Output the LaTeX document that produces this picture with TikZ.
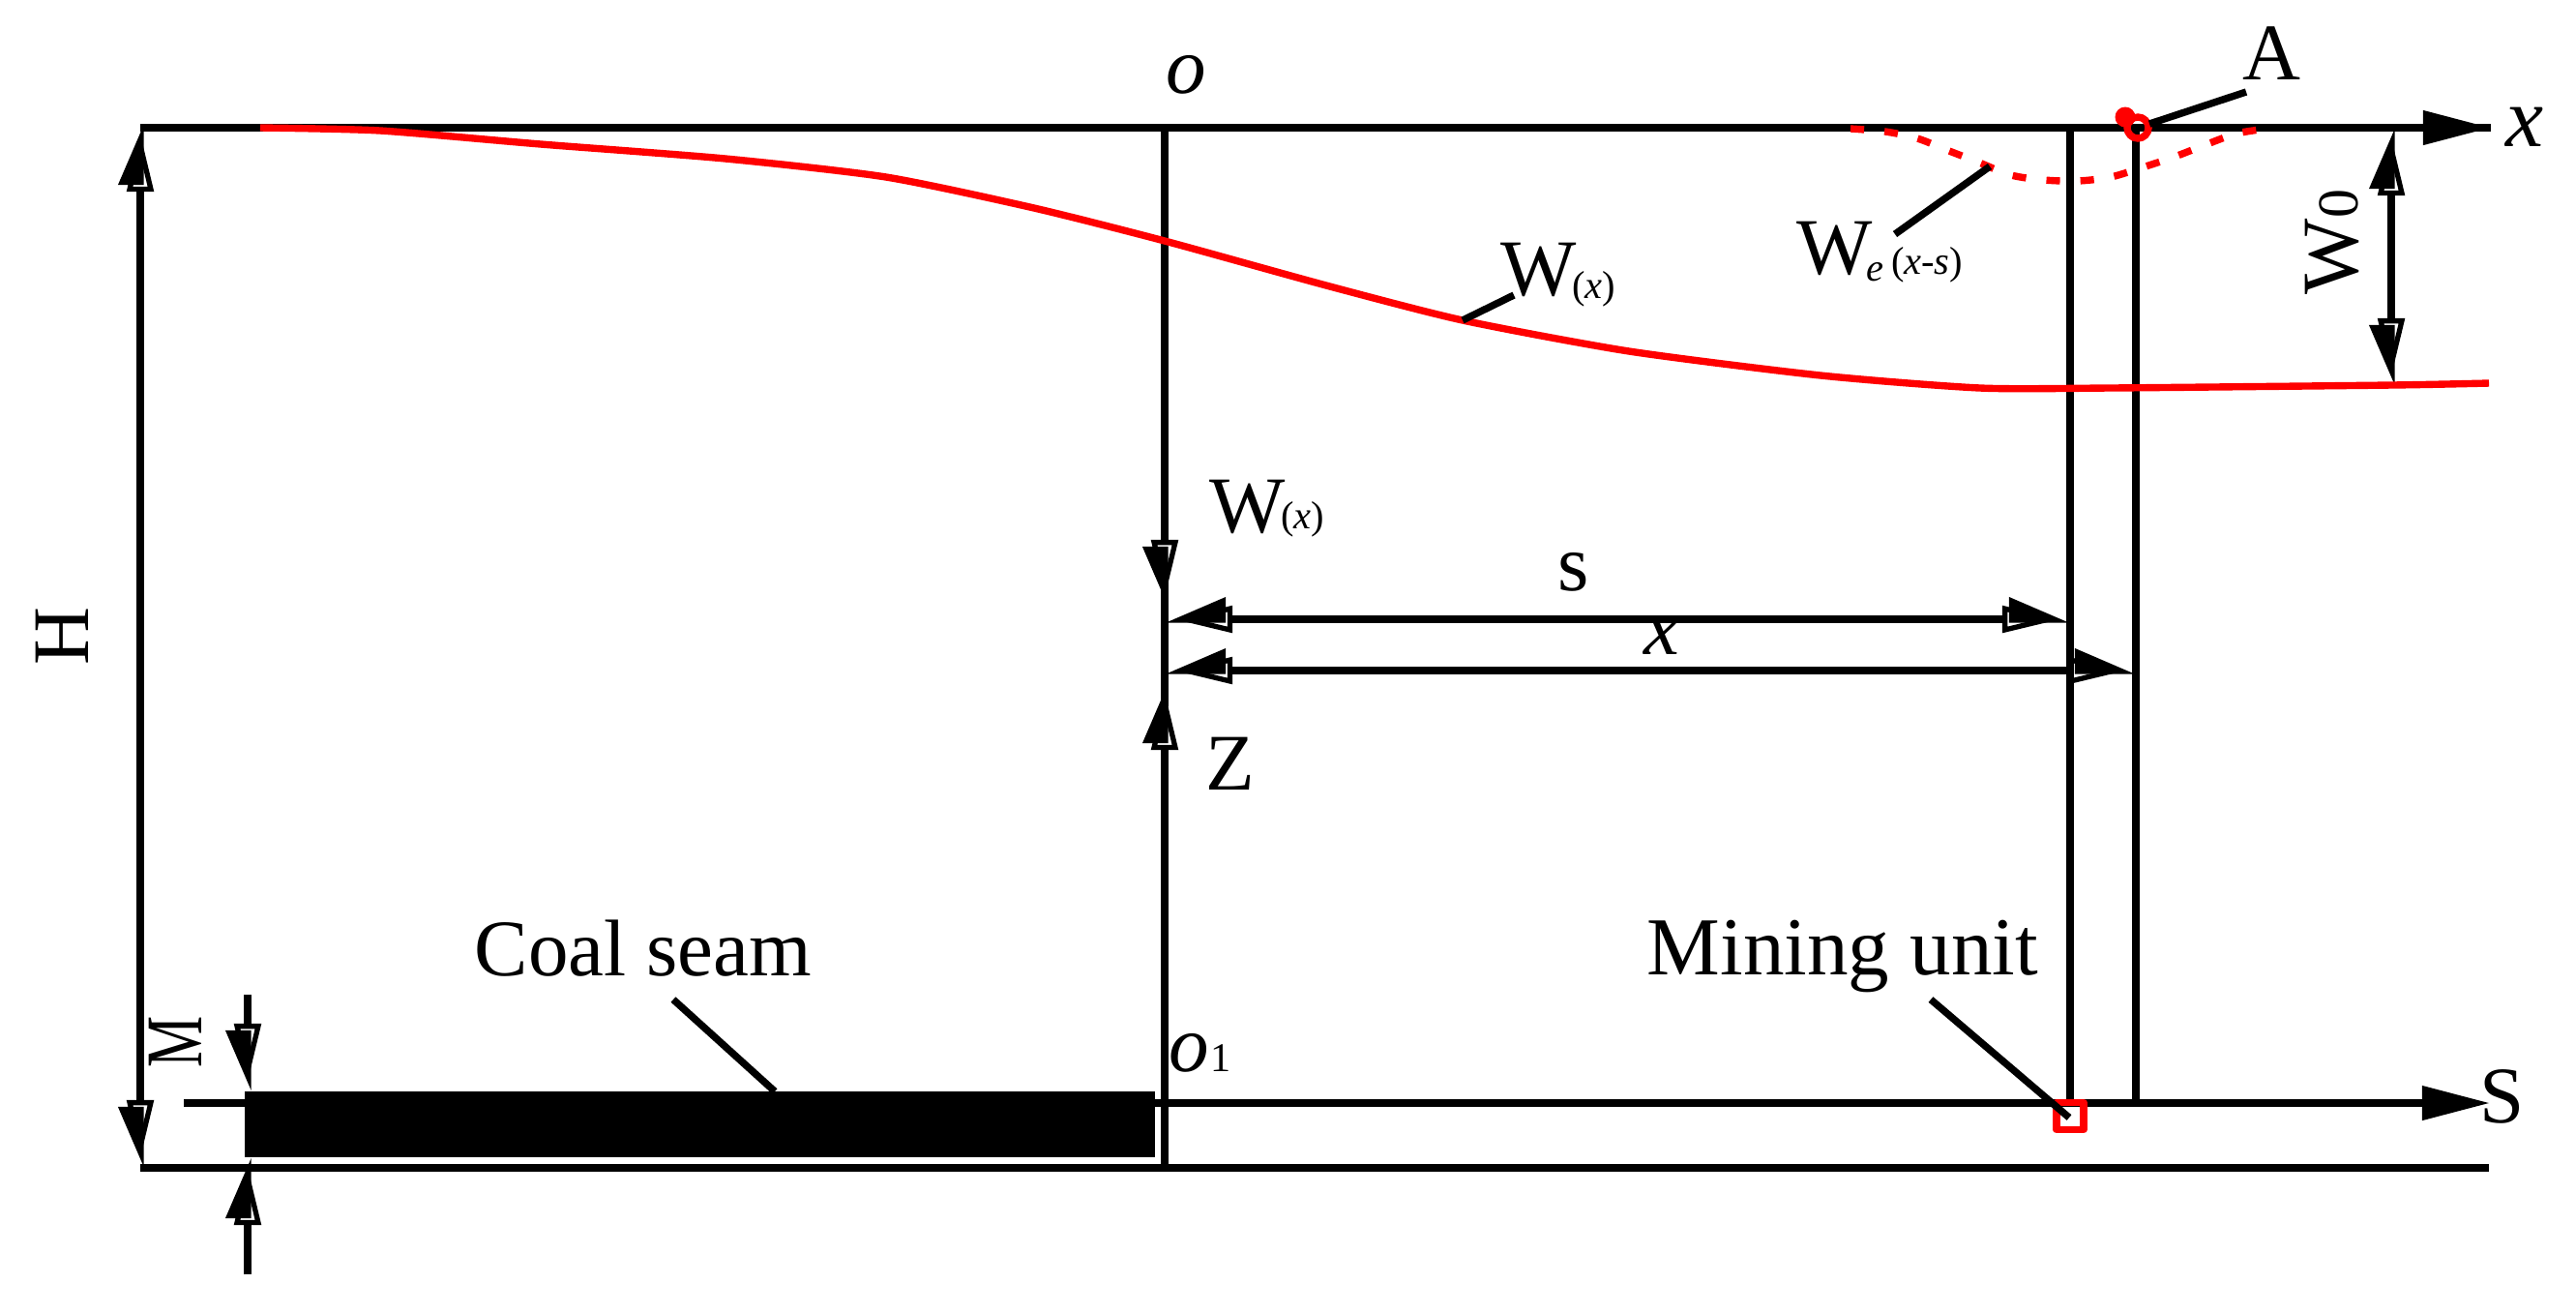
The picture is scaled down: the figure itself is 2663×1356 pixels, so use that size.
\documentclass[tikz,border=0pt]{standalone}
\usepackage{fontspec}
\setmainfont{Liberation Serif}
\usetikzlibrary{arrows.meta}
\newcommand{\lab}{\fontsize{23.6}{28}\selectfont}
\newcommand{\sublab}{\fontsize{11.5}{13}\selectfont}
\newcommand{\digitlab}{\fontsize{12}{14}\selectfont}
\tikzset{
  headL/.tip={Triangle[left,length=.54cm,width=.44cm,sep=-.7cm]Triangle[open,line width=1.5pt,length=.6cm,width=.27cm]},
  headR/.tip={Triangle[right,length=.54cm,width=.44cm,sep=-.7cm]Triangle[open,line width=1.5pt,length=.6cm,width=.27cm]},
  axisHead/.tip={Triangle[length=.7cm,width=.34cm]},
  mainline/.style={line width=2.1pt},
  headed/.style={mainline,shorten >=.1cm,shorten <=.1cm},
  redline/.style={red,line width=2.1pt},
  txt/.style={inner sep=0pt,anchor=base,font=\lab}
}
\begin{document}
\begin{tikzpicture}[x=0.01cm,y=-0.01cm]
  \useasboundingbox (0,0) rectangle (2663,1356);
  \coordinate (tl) at (145,128);
  \coordinate (tr) at (145,132);
  \coordinate (bl) at (145,1207);
  \coordinate (o) at (1204,132);
  \coordinate (wtip) at (1204,628);
  \coordinate (wlink) at (1204,600);
  \coordinate (zlink) at (1204,730);
  \coordinate (ztip) at (1204,705);
  \coordinate (obot) at (1204,1207);
  \coordinate (xend) at (2575,132);
  \coordinate (botend) at (2573,1207);
  \coordinate (sleft) at (190,1140);
  \coordinate (send) at (2574,1140);
  \coordinate (stop) at (2140,132);
  \coordinate (sbot) at (2140,1140);
  \coordinate (xtop) at (2208,132);
  \coordinate (xbot) at (2208,1140);
  \coordinate (s1) at (1204,640);
  \coordinate (s2) at (2140,640);
  \coordinate (x1) at (1204,693);
  \coordinate (x2) at (2208,693);
  \coordinate (w0a) at (2472,132);
  \coordinate (w0b) at (2472,399);
  \coordinate (m1) at (256,1028);
  \coordinate (m2) at (256,1128);
  \coordinate (m3) at (256,1317);
  \coordinate (m4) at (256,1196);

  \node[fill=black,inner sep=0pt,minimum width=9.41cm,minimum height=.68cm] (coal) at (723.5,1162) {};

  \draw[mainline] (tr) -- (xend);
  \draw[mainline,-axisHead] (o) -- (xend);
  \draw[mainline] (bl) -- (botend);
  \draw[mainline,-axisHead] (sleft) -- (send);
  \draw[headed,headL-headR] (tl) -- (bl);
  \draw[headed,shorten <=0pt,-headR] (o) -- (wtip);
  \draw[mainline] (wlink) -- (zlink);
  \draw[headed,shorten <=0pt,-headL] (obot) -- (ztip);
  \draw[mainline] (stop) -- (sbot);
  \draw[mainline] (xtop) -- (xbot);
  \draw[headed,headR-headL] (s1) -- (s2);
  \draw[headed,headR-headL] (x1) -- (x2);
  \draw[headed,headL-headR] (w0a) -- (w0b);
  \draw[headed,shorten <=0pt,-headR] (m1) -- (m2);
  \draw[headed,shorten <=0pt,-headL] (m3) -- (m4);

  \draw[redline] plot[smooth,tension=.4] coordinates {(269,132) (393,135) (559,149) (750,164) (916,183) (1069,215) (1204,249) (1371,295) (1512,331) (1684,363) (1882,388) (2047,401) (2180,401) (2472,398) (2573,396)};
  \draw[redline,dash pattern=on 4pt off 6pt] plot[smooth] coordinates {(1913,133) (1949,136) (1982,143) (2015,156) (2046,168) (2079,181) (2113,186) (2148,187) (2182,183) (2218,172) (2248,162) (2279,150) (2312,138) (2344,133)};

  \node[draw=red,line width=2.1pt,circle,inner sep=0pt,minimum size=.22cm] (pta) at (2210,132) {};
  \node[fill=red,circle,inner sep=0pt,minimum size=.21cm] (ptb) at (2197,121) {};
  \node[draw=red,line width=2.1pt,line join=round,inner sep=0pt,minimum size=.28cm] (unit) at (2140,1153.5) {};

  \node[txt] (lo) at (1226,96) {\textit{o}};
  \node[txt,anchor=base west] (lo1) at (1208,1107) {\textit{o}\hspace{.5pt}\digitlab 1};
  \node[txt] (lA) at (2348,82) {A};
  \node[txt,font=\fontsize{25}{30}\selectfont] (lx) at (2610,151) {\textit{x}};
  \node[txt] (lS) at (2587,1160) {S};
  \node[txt] (ls) at (1627,610) {s};
  \node[txt] (lxx) at (1718,676) {\textit{x}};
  \node[txt] (lZ) at (1272,816) {Z};
  \node[txt,rotate=90] (lH) at (91,658) {H};
  \node[txt,rotate=90] (lM) at (208,1077) {\scalebox{.72}[1]{M}};
  \node[txt,rotate=90] (lw0) at (2437,250) {W\fontsize{17}{20}\selectfont 0};
  \node[txt] (lcoal) at (665,1008) {Coal seam};
  \node[txt,font=\fontsize{24.2}{28}\selectfont] (lunit) at (1905,1007) {Mining unit};
  \node[txt,anchor=base west] (lw1) at (1551,305) {W\hspace{-1.4pt}\raisebox{-1pt}{\sublab(\textit{x})}};
  \node[txt,anchor=base west] (lw2) at (1250,550) {W\hspace{-1.4pt}\raisebox{1pt}{\sublab(\textit{x})}};
  \node[txt,anchor=base west] (lwe) at (1857,283) {W\hspace{-2pt}\raisebox{-2pt}{\sublab\textit{e}}\hspace{2.3pt}{\sublab(\textit{x-s})}};

  \coordinate (cA1) at (2222,128);
  \coordinate (cA2) at (2322,95);
  \coordinate (cE1) at (2057,172);
  \coordinate (cE2) at (1959,242);
  \coordinate (cW1) at (1512,331);
  \coordinate (cW2) at (1565,305);
  \coordinate (cC1) at (696,1033);
  \coordinate (cC2) at (801,1128);
  \coordinate (cU1) at (1996,1033);
  \coordinate (cU2) at (2139,1155);
  \draw[mainline] (cA1) -- (cA2);
  \draw[mainline] (cE1) -- (cE2);
  \draw[mainline] (cW1) -- (cW2);
  \draw[mainline] (cC1) -- (cC2);
  \draw[mainline] (cU1) -- (cU2);
\end{tikzpicture}
\end{document}
